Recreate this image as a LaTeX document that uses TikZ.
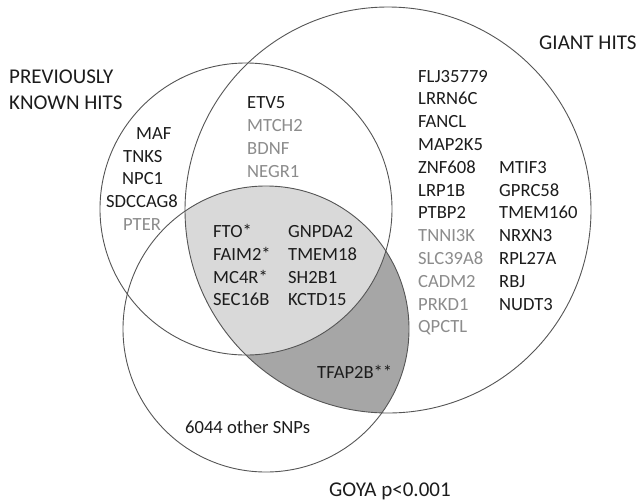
\documentclass[tikz,border=0pt]{standalone}
\usepackage{fontspec}
\setmainfont{Carlito}
\definecolor{txt}{HTML}{1C1C1C}
\definecolor{gtxt}{HTML}{8C8C8C}
\definecolor{lfill}{HTML}{D9D9D9}
\definecolor{dfill}{HTML}{A6A6A6}
\definecolor{ring}{HTML}{555555}
\tikzset{
  gene/.style={anchor=base west, inner sep=0pt, text=txt, font=\fontsize{18.6}{22}\selectfont},
  ggene/.style={gene, text=gtxt},
  title/.style={anchor=base west, inner sep=0pt, text=txt, font=\fontsize{21}{25}\selectfont},
  ringline/.style={draw=ring, line width=0.9pt}
}
\begin{document}
\begin{tikzpicture}[x=1pt,y=-1pt]
\useasboundingbox (0,0) rectangle (642,501);
\fill[white] (0,0) rectangle (642,501);
% dark region: B and C
\begin{scope}
  \clip (388,210) circle (203);
  \fill[dfill] (266,329) circle (143);
\end{scope}
% light region: A and B and C
\begin{scope}
  \clip (388,210) circle (203);
  \clip (246,209) circle (146);
  \fill[lfill] (266,329) circle (143);
\end{scope}
\draw[ringline] (246,209) circle (146);
\draw[ringline] (388,210) circle (203);
\draw[ringline] (266,329) circle (143);

% titles
\node[title] (t1) at (9,83) {PREVIOUSLY};
\node[title] (t2) at (9,109) {KNOWN HITS};
\node[title] (t3) at (539,49) {GIANT HITS};
\node[title] (t4) at (329,496) {GOYA p<0.001};

% previously known only
\node[gene] (maf) at (136,139) {MAF};
\node[gene] (tnks) at (123,162) {TNKS};
\node[gene] (npc) at (122,184) {NPC1};
\node[gene] (sdc) at (106,207) {SDCCAG8};
\node[ggene] (pter) at (123,230) {PTER};

% A and B
\node[gene] (etv) at (247,108) {ETV5};
\node[ggene] (mtch) at (247,131) {MTCH2};
\node[ggene] (bdnf) at (247,154) {BDNF};
\node[ggene] (negr) at (247,177) {NEGR1};

% GIANT only col 1
\node[gene] (g1) at (418,82) {FLJ35779};
\node[gene] (g2) at (418,104.8) {LRRN6C};
\node[gene] (g3) at (418,127.6) {FANCL};
\node[gene] (g4) at (418,150.4) {MAP2K5};
\node[gene] (g5) at (418,173.2) {ZNF608};
\node[gene] (g6) at (418,196) {LRP1B};
\node[gene] (g7) at (418,218.8) {PTBP2};
\node[ggene] (g8) at (418,241.6) {TNNI3K};
\node[ggene] (g9) at (418,264.4) {SLC39A8};
\node[ggene] (g10) at (418,287.2) {CADM2};
\node[ggene] (g11) at (418,310) {PRKD1};
\node[ggene] (g12) at (418,332.8) {QPCTL};
% col 2
\node[gene] (h1) at (499,173.2) {MTIF3};
\node[gene] (h2) at (499,196) {GPRC58};
\node[gene] (h3) at (499,218.8) {TMEM160};
\node[gene] (h4) at (499,241.6) {NRXN3};
\node[gene] (h5) at (499,264.4) {RPL27A};
\node[gene] (h6) at (499,287.2) {RBJ};
\node[gene] (h7) at (499,310) {NUDT3};

% center
\node[gene] (c1) at (213,237) {FTO*};
\node[gene] (c2) at (213,260) {FAIM2*};
\node[gene] (c3) at (213,283) {MC4R*};
\node[gene] (c4) at (213,305) {SEC16B};
\node[gene] (d1) at (288,237) {GNPDA2};
\node[gene] (d2) at (288,260) {TMEM18};
\node[gene] (d3) at (288,283) {SH2B1};
\node[gene] (d4) at (288,305) {KCTD15};

\node[gene] (tf) at (317,378) {TFAP2B**};
\node[gene] (oth) at (185,433) {6044 other SNPs};
\end{tikzpicture}
\end{document}
